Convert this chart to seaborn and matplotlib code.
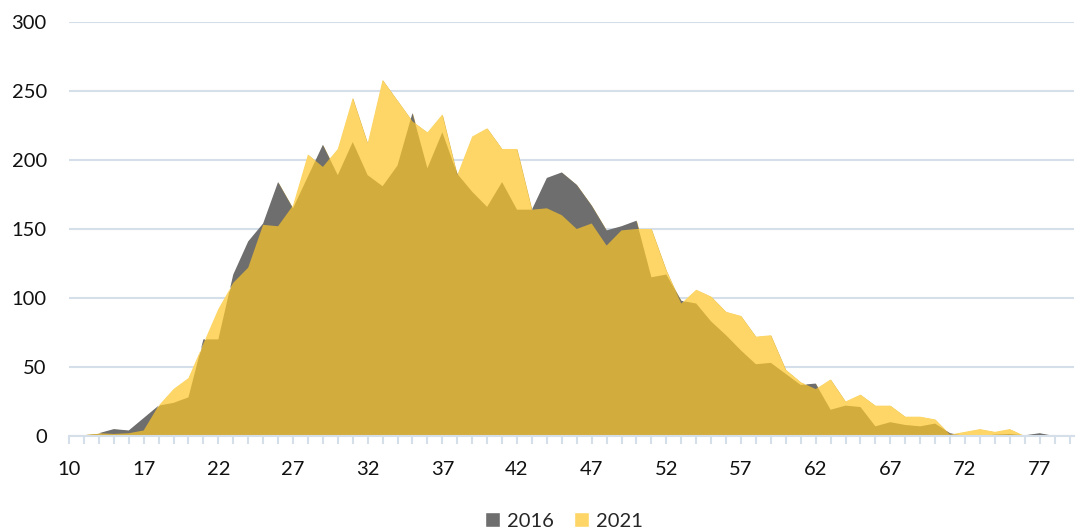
import pandas as pd
import matplotlib.pyplot as plt
import seaborn as sns
from matplotlib.patches import Patch

# categories (age) and counts per year
ages = [10] + list(range(13, 80))

counts_2016 = [0, 1, 2, 5, 4, 13, 22, 24, 28, 70,
               70, 117, 141, 154, 184, 165, 188, 211, 189, 213,
               189, 181, 196, 234, 194, 220, 190, 177, 166, 184,
               164, 164, 187, 191, 182, 167, 149, 152, 156, 115,
               117, 98, 96, 83, 73, 62, 52, 53, 45, 37,
               38, 19, 22, 21, 7, 10, 8, 7, 9, 2,
               0, 0, 1, 1.5, 0.5, 2, 0, 0]

counts_2021 = [0, 1, 2, 1.5, 2, 4, 22, 34, 42, 67,
               92, 111, 122, 153, 152, 167, 204, 195, 208, 245,
               212, 258, 243, 228, 220, 233, 189, 217, 223, 208,
               208, 164, 165, 160, 150, 154, 138, 149, 150, 150,
               120, 96, 106, 101, 90, 87, 72, 73, 48, 39,
               34, 41, 25, 30, 22, 22, 14, 14, 12, 1,
               3, 5, 3, 5, 0, 0, 0, 0]

df = pd.DataFrame({"pos": range(len(ages)), "age": ages,
                   "2016": counts_2016, "2021": counts_2021})

gray = "#6e6e6e"
yellow = "#fdd667"     # transparent gold over white
overlap = "#d3ac3e"    # transparent gold over gray
grid_col = "#d5dfea"

sns.set_style("white")
plt.rcParams["font.family"] = ["Lato", "DejaVu Sans"]

fig = plt.figure(figsize=(10.8, 5.32), dpi=100)
ax = fig.add_axes([69 / 1080, 1 - 436 / 532, (1074 - 69) / 1080, (436 - 22) / 532])

x = df["pos"]
y16 = df["2016"]
y21 = df["2021"]

sns.lineplot(data=df, x="pos", y="2016", ax=ax, color=gray, linewidth=0)
sns.lineplot(data=df, x="pos", y="2021", ax=ax, color=yellow, linewidth=0)

# common part in the blended colour, then the part where each year is higher
ax.fill_between(x, 0, y16, color=overlap, linewidth=0, zorder=2)
ax.fill_between(x, 0, y21, color=overlap, linewidth=0, zorder=2)
ax.fill_between(x, y21, y16, where=y16 >= y21, interpolate=True,
                color=gray, linewidth=0, zorder=3)
ax.fill_between(x, y16, y21, where=y21 >= y16, interpolate=True,
                color=yellow, linewidth=0, zorder=3)

ax.set_xlim(0, 67.3)
ax.set_ylim(0, 300)
ax.set_yticks(range(0, 301, 50))
ax.yaxis.grid(True, color=grid_col, linewidth=1.5)
ax.set_axisbelow(True)

ax.set_xticks(range(len(ages)), minor=True)
ax.set_xticks(range(0, len(ages), 5))
ax.set_xticklabels([str(ages[i]) for i in range(0, len(ages), 5)])

for s in ["top", "right", "left"]:
    ax.spines[s].set_visible(False)
ax.spines["bottom"].set_color(grid_col)
ax.spines["bottom"].set_linewidth(1.5)
ax.spines["bottom"].set_zorder(5)

ax.tick_params(axis="y", length=0, pad=16, labelsize=14.5, labelcolor="#111111")
ax.tick_params(axis="x", which="both", direction="out", length=6, width=1.5,
               color=grid_col, pad=12, labelsize=14.5, labelcolor="#111111")
ax.tick_params(axis="x", which="both", bottom=True)
ax.set_xlabel("")
ax.set_ylabel("")

handles = [Patch(facecolor=gray, label="2016"),
           Patch(facecolor=yellow, label="2021")]
fig.legend(handles=handles, loc="lower center", bbox_to_anchor=(0.522, -0.03),
           ncol=2, frameon=False, fontsize=14.5, handlelength=0.75,
           handleheight=0.75, handletextpad=0.35, columnspacing=1.0)

fig.savefig("out.png", dpi=100)
